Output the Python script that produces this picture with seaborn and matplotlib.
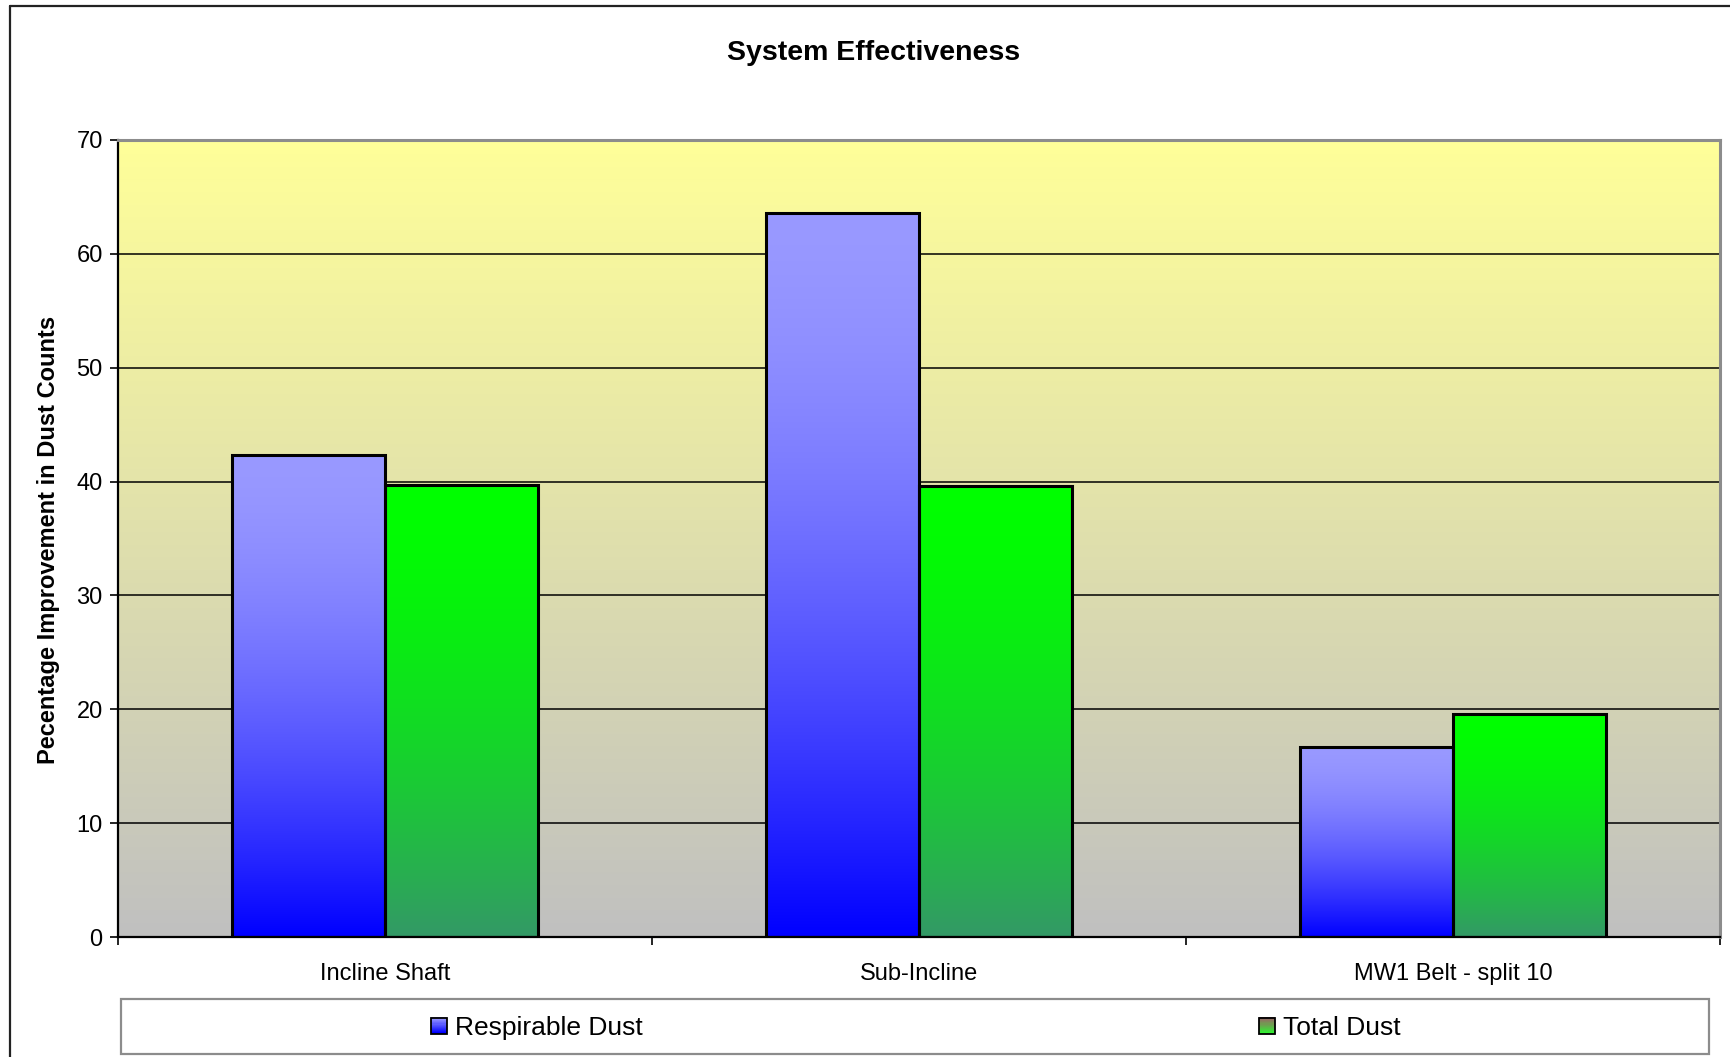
import numpy as np
import pandas as pd
import matplotlib
matplotlib.use("Agg")
import matplotlib.pyplot as plt
import seaborn as sns
from matplotlib.colors import to_rgb
from matplotlib.patches import Rectangle
from matplotlib.lines import Line2D
from matplotlib.legend_handler import HandlerBase

# Data
categories = ["Incline Shaft", "Sub-Incline", "MW1 Belt - split 10"]
series = ["Respirable Dust", "Total Dust"]
respirable = [42.3, 63.6, 16.7]
total_dust = [39.7, 39.6, 19.6]
yticks = [0, 10, 20, 30, 40, 50, 60, 70]

df = pd.DataFrame({
    "Location": categories * 2,
    "Series": [series[0]] * len(categories) + [series[1]] * len(categories),
    "Value": respirable + total_dust,
})

sns.set_theme(style="white")
plt.rcParams["font.family"] = ["Liberation Sans", "DejaVu Sans"]
plt.rcParams["text.color"] = "black"
plt.rcParams["xtick.color"] = "black"
plt.rcParams["ytick.color"] = "black"
plt.rcParams["xtick.labelcolor"] = "black"
plt.rcParams["ytick.labelcolor"] = "black"

# Gradient colours (top, bottom)
RESP_TOP, RESP_BOT = to_rgb("#9999ff"), to_rgb("#0000ff")
TOT_TOP, TOT_BOT = to_rgb("#00ff00"), to_rgb("#339966")
BG_TOP, BG_BOT = to_rgb("#ffff99"), to_rgb("#c0c0c0")


def vgrad(top, bottom, n=256, gamma=1.0):
    t = np.linspace(0, 1, n)[:, None] ** gamma
    arr = np.array(top)[None, :] * (1 - t) + np.array(bottom)[None, :] * t
    return arr[:, None, :]


fig = plt.figure(figsize=(17.31, 10.57), dpi=100)
ax = fig.add_axes([118 / 1731, 1 - 937 / 1057, (1720 - 118) / 1731, (937 - 140) / 1057])

sns.barplot(data=df, x="Location", y="Value", hue="Series", ax=ax,
            width=0.573, palette=["#0000ff", "#339966"], edgecolor="black",
            linewidth=2.2, errorbar=None, legend=False, saturation=1)

# Plot-area background gradient
ax.imshow(vgrad(BG_TOP, BG_BOT), extent=[0, 1, 0, 1], transform=ax.transAxes,
          aspect="auto", zorder=0, interpolation="bilinear")

# Gradient fills inside each bar
for p in list(ax.patches):
    fc = p.get_facecolor()[:3]
    if np.allclose(fc, RESP_BOT, atol=0.05):
        top, bot = RESP_TOP, RESP_BOT
    else:
        top, bot = TOT_TOP, TOT_BOT
    x, y, w, h = p.get_x(), p.get_y(), p.get_width(), p.get_height()
    ax.imshow(vgrad(top, bot, gamma=1.6), extent=[x, x + w, y, y + h],
              aspect="auto", zorder=2, interpolation="bilinear")
    p.set_facecolor("none")
    p.set_zorder(3)
ax.set_xlim(-0.5, 2.5)
ax.set_ylim(0, 70)

# Grid and axes styling
ax.set_axisbelow(True)
ax.yaxis.grid(True, color="black", linewidth=1.1, zorder=1)
ax.xaxis.grid(False)
ax.set_yticks(yticks)
ax.set_xlabel("")
ax.set_ylabel("")
for side in ["left", "bottom"]:
    ax.spines[side].set_color("black")
    ax.spines[side].set_linewidth(1.6)
for side in ["top", "right"]:
    ax.spines[side].set_color("#8c8c8c")
    ax.spines[side].set_linewidth(2.2)
ax.spines["bottom"].set_zorder(5)

ax.tick_params(axis="y", which="major", direction="out", length=6, width=1.2,
               color="black", labelcolor="black", labelsize=17, pad=5, left=True)
ax.set_xticks([-0.5, 0.5, 1.5, 2.5], minor=True)
ax.tick_params(axis="x", which="minor", direction="out", length=6, width=1.2,
               color="black", bottom=True)
ax.tick_params(axis="x", which="major", length=0, labelsize=17, pad=19,
               labelcolor="black")

fig.text(49 / 1731, 1 - 540 / 1057, "Pecentage Improvement in Dust Counts",
         rotation=90, ha="center", va="center", fontsize=17,
         fontweight="bold", color="black")
fig.text(874 / 1731, 1 - 53 / 1057, "System Effectiveness", ha="center",
         va="center", fontsize=20.5, fontweight="bold", color="black")

# Outer chart frame (left and top edges)
fig.add_artist(Line2D([10 / 1731, 10 / 1731], [0, 1 - 6 / 1057],
                      transform=fig.transFigure, color="#222222", lw=1.6))
fig.add_artist(Line2D([10 / 1731, 1], [1 - 6 / 1057, 1 - 6 / 1057],
                      transform=fig.transFigure, color="#222222", lw=1.6))

# Legend box
fig.add_artist(Rectangle((121 / 1731, 1 - 1054 / 1057),
                         (1709 - 121) / 1731, (1054 - 999) / 1057,
                         transform=fig.transFigure, facecolor="white",
                         edgecolor="#8c8c8c", lw=1.6))


class GradientSquare(HandlerBase):
    def __init__(self, top, bottom, n=14):
        super().__init__()
        self.top = np.array(top)
        self.bottom = np.array(bottom)
        self.n = n

    def create_artists(self, legend, orig_handle, xdescent, ydescent,
                       width, height, fontsize, trans):
        side = min(width, height)
        x0 = -xdescent + (width - side) / 2
        y0 = -ydescent + (height - side) / 2
        arts = []
        for i in range(self.n):
            f = i / (self.n - 1)
            c = self.bottom * (1 - f) + self.top * f
            arts.append(Rectangle((x0, y0 + side * i / self.n), side,
                                  side / self.n + 0.3, facecolor=c,
                                  edgecolor="none", transform=trans))
        arts.append(Rectangle((x0, y0), side, side, facecolor="none",
                              edgecolor="black", lw=1.3, transform=trans))
        return arts


legend_specs = [
    (series[0], 431 / 1731, RESP_TOP, RESP_BOT),
    (series[1], 1259 / 1731, to_rgb("#996666"), to_rgb("#33ee33")),
]
for label, xpos, top, bot in legend_specs:
    h = Rectangle((0, 0), 1, 1)
    leg = fig.legend([h], [label], loc="center left",
                     bbox_to_anchor=(xpos, 1 - 1028 / 1057),
                     bbox_transform=fig.transFigure, frameon=False, fontsize=19,
                     handlelength=0.6, handleheight=0.6, handletextpad=0.3,
                     borderpad=0, borderaxespad=0, labelcolor="black",
                     handler_map={Rectangle: GradientSquare(top, bot)})

fig.savefig("out.png", dpi=100)
